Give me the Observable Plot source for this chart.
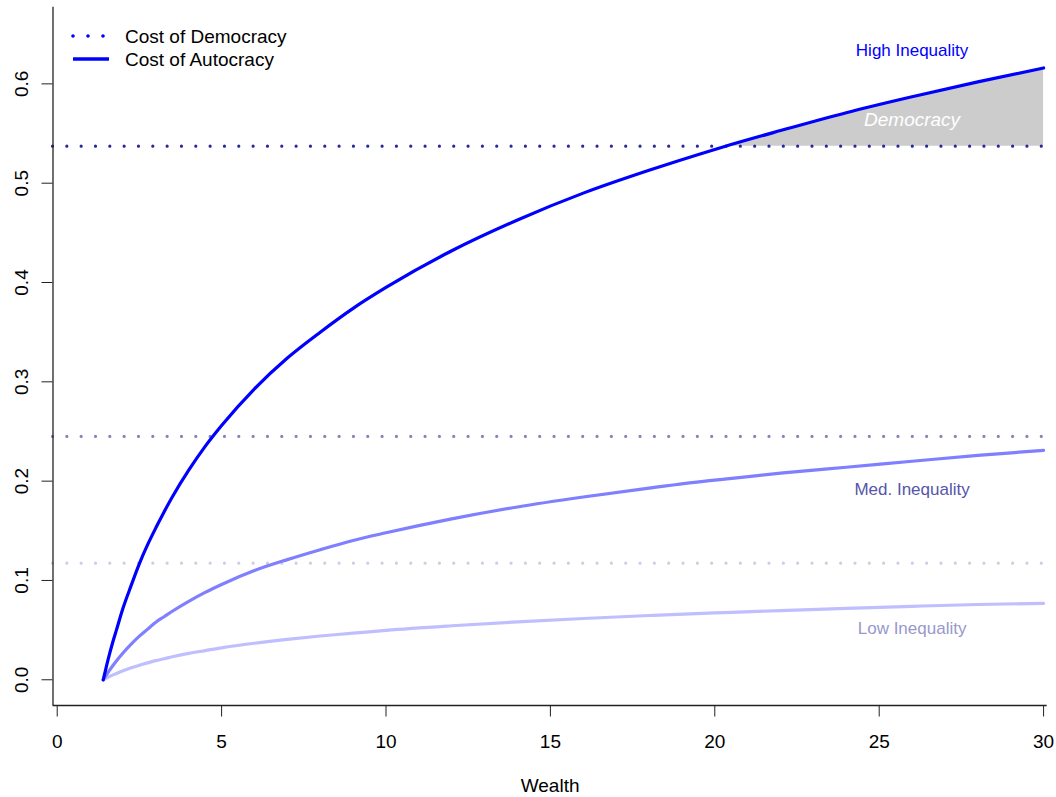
<!DOCTYPE html>
<html><head><meta charset="utf-8">
<script src="https://cdn.jsdelivr.net/npm/d3@7"></script>
<script src="https://cdn.jsdelivr.net/npm/@observablehq/plot@0.6"></script>
<style>
body{margin:0;background:#fff;}
#wrap{position:relative;width:1056px;height:797px;font-family:"Liberation Sans",Arial,Helvetica,sans-serif;}
#legend{position:absolute;left:0;top:0;}
</style></head>
<body><div id="wrap"></div>
<script>
// ---- data ----
const wealth = [1.4,1.45,1.5,1.6,1.7,1.8,2,2.25,2.5,2.75,3,3.25,3.5,4,4.5,5,6,7,8,9,10,12,14,16,18,20,20.3,22,24,26,28,30];
const autocracyHigh = [0,0.007,0.014,0.027,0.039,0.05,0.072,0.095,0.117,0.136,0.153,0.169,0.184,0.211,0.235,0.256,0.293,0.324,0.35,0.374,0.395,0.432,0.463,0.49,0.513,0.534,0.537,0.553,0.571,0.587,0.602,0.616];
const autocracyMed  = [0,0.0026,0.005,0.01,0.0146,0.019,0.027,0.036,0.044,0.051,0.058,0.0635,0.069,0.079,0.088,0.096,0.11,0.121,0.131,0.1403,0.148,0.162,0.174,0.184,0.193,0.201,0.202,0.208,0.214,0.22,0.226,0.231];
const autocracyLow  = [0,0.0009,0.0017,0.0034,0.0049,0.0064,0.009,0.012,0.0147,0.017,0.0193,0.0212,0.0232,0.0266,0.0294,0.0322,0.0368,0.0407,0.0441,0.0469,0.0498,0.0544,0.0583,0.0617,0.0647,0.0673,0.0676,0.0697,0.0719,0.074,0.0758,0.077];
const democracyCost = {high: 0.5373, med: 0.245, low: 0.1174};
const groupNames = ["High Inequality", "Med. Inequality", "Low Inequality"];
const groupLabelX = [26, 26, 26];
const groupLabelY = [0.6336, 0.1913, 0.0513];
const regionLabel = "Democracy";
const regionLabelX = 26;
const regionLabelY = 0.5638;
const xTicks = [0,5,10,15,20,25,30];
const yTicks = [0,0.1,0.2,0.3,0.4,0.5,0.6];
const legendLabels = ["Cost of Democracy", "Cost of Autocracy"];
const xTitle = "Wealth";

// ---- styles ----
const lineColors = {high:"#0000ff", med:"#7f7fff", low:"#bfbfff"};
const dotColors = {high:"#28289a", med:"#8585b8", low:"#cdcde4"};
const labelColors = ["#0000ff", "#5555aa", "#9898cc"];
const font = '"Liberation Sans", Arial, Helvetica, sans-serif';

const series = (vals) => wealth.map((x, i) => ({x, y: vals[i]}));
const high = series(autocracyHigh), med = series(autocracyMed), low = series(autocracyLow);
const shade = high.filter(d => d.x >= 20.3);
const xDomain = [-0.128, 30.11], yDomain = [-0.0259, 0.6772];

const labels = groupNames.map((t, i) => ({t, x: groupLabelX[i], y: groupLabelY[i], c: labelColors[i]}));

const dotted = (v, c) => Plot.ruleY([v], {stroke: c, strokeWidth: 3.2, strokeDasharray: "0 14.33", strokeLinecap: "round"});

const chart = Plot.plot({
  width: 1056, height: 797,
  marginLeft: 52.5, marginRight: 9.3, marginTop: 6.7, marginBottom: 92,
  style: {fontFamily: font, fontSize: "19px", background: "white", color: "black"},
  x: {domain: xDomain},
  y: {domain: yDomain},
  marks: [
    Plot.areaY(shade, {x: "x", y1: () => democracyCost.high, y2: "y", fill: "#cccccc", curve: "monotone-x"}),
    dotted(democracyCost.high, dotColors.high),
    dotted(democracyCost.med, dotColors.med),
    dotted(democracyCost.low, dotColors.low),
    Plot.line(low, {x: "x", y: "y", stroke: lineColors.low, strokeWidth: 3.2, curve: "monotone-x"}),
    Plot.line(med, {x: "x", y: "y", stroke: lineColors.med, strokeWidth: 3.2, curve: "monotone-x"}),
    Plot.line(high, {x: "x", y: "y", stroke: lineColors.high, strokeWidth: 3.2, curve: "monotone-x"}),
    Plot.text(labels, {x: "x", y: "y", text: "t", fill: "c", fontSize: 17}),
    Plot.text([regionLabel], {x: () => regionLabelX, y: () => regionLabelY, text: d => d, fill: "white", fontSize: 19, fontStyle: "italic"}),
    Plot.ruleX([xDomain[0]], {stroke: "#222", strokeWidth: 1.3}),
    Plot.ruleY([yDomain[0]], {stroke: "#222", strokeWidth: 1.3}),
    Plot.axisX({ticks: xTicks, tickFormat: d => String(d), tickSize: 11.5, tickPadding: 17.5, fontSize: 19, label: null, stroke: "#222"}),
    Plot.axisY({ticks: yTicks, tickFormat: d3.format(".1f"), tickSize: 11, tickPadding: 14.5, tickRotate: -90, fontSize: 19, label: null, stroke: "#222"}),
    Plot.text([xTitle], {frameAnchor: "bottom", dy: 86.7, lineAnchor: "bottom", text: d => d, fontSize: 19})
  ]
});
const wrap = document.getElementById("wrap");
wrap.appendChild(chart);

// ---- legend ----
const leg = d3.select(wrap).append("svg").attr("id", "legend").attr("width", 320).attr("height", 80)
  .style("font-family", font).style("font-size", "19px");
const legRows = [
  {label: legendLabels[0], dash: "0 15", x2: 103.5, cy: 36, base: 42.7},
  {label: legendLabels[1], dash: null, x2: 109, cy: 59, base: 65.7}
];
legRows.forEach(r => {
  const l = leg.append("line").attr("x1", 73).attr("x2", r.x2).attr("y1", r.cy).attr("y2", r.cy)
    .attr("stroke", "#0000ff").attr("stroke-width", 3.6).attr("stroke-linecap", r.dash ? "round" : "butt");
  if (r.dash) l.attr("stroke-dasharray", r.dash);
  leg.append("text").attr("x", 125).attr("y", r.base).attr("fill", "black").text(r.label);
});
</script>
</body></html>
